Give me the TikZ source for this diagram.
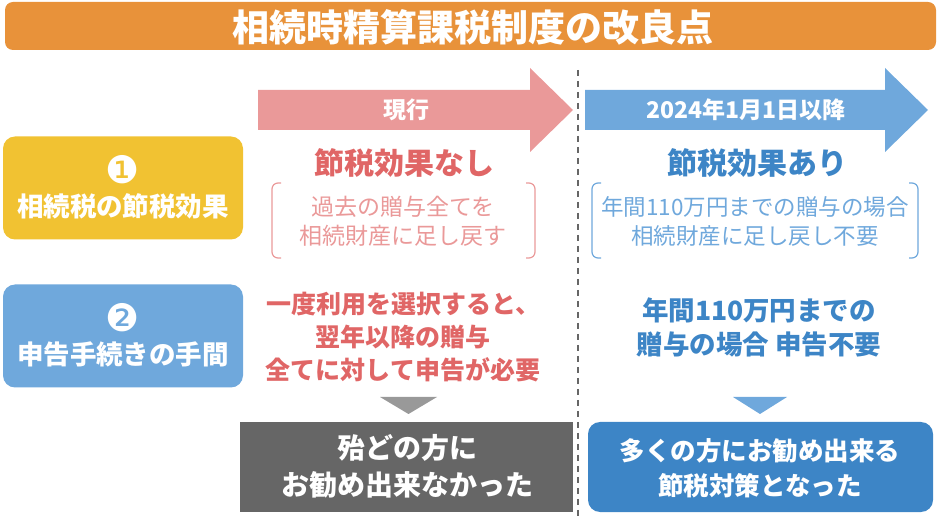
\documentclass[tikz,border=0pt]{standalone}
\usepackage{fontspec}
\setmainfont{Noto Sans CJK JP}
\newfontfamily\dingfont{DejaVu Sans}

\definecolor{titleorange}{HTML}{E8923A}
\definecolor{nowpink}{HTML}{EA9999}
\definecolor{nowred}{HTML}{E06666}
\definecolor{newblue}{HTML}{6FA8DC}
\definecolor{deepblue}{HTML}{3D85C6}
\definecolor{itemyellow}{HTML}{F1C232}

\tikzset{
  bfs/.style={font=\bfseries\fontsize{#1}{#1}\selectfont},
  itembox/.style={rounded corners=12pt, minimum width=240, minimum height=103, inner sep=0pt},
  itemnum/.style={text=white, inner sep=0pt, anchor=base, text depth=0pt, font=\dingfont\fontsize{38}{38}\selectfont},
  resultbox/.style={minimum height=90, inner sep=0pt},
  bracketline/.style={line width=1.2pt, rounded corners=6pt},
}

\begin{document}
\begin{tikzpicture}[x=1pt,y=-1pt]
  \useasboundingbox (0,0) rectangle (938,521);

  %% Title
  \node[fill=titleorange, rounded corners=8pt, minimum width=931, minimum height=48, inner sep=0pt] (titlebar) at (470.5,26) {};
  \node[text=white, bfs=37] (title) at (473,27) {相続時精算課税制度の改良点};

  %% Arrows
  \fill[nowpink] (258,90) -- (530,90) -- (530,68) -- (573,110) -- (530,152) -- (530,130) -- (258,130) -- cycle;
  \fill[newblue] (585,90) -- (885,90) -- (885,68) -- (928,110) -- (885,152) -- (885,130) -- (585,130) -- cycle;
  \node[text=white, bfs=23] (now) at (406,110) {現行};
  \node[text=white, bfs=23] (new) at (746,110) {2024年1月1日以降};

  \coordinate (divtop) at (578,70);
  \coordinate (divbot) at (578,521);
  \draw[gray!80!black, line width=1.2pt, dash pattern=on 6pt off 5pt] (divtop) -- (divbot);

  %% Left items
  \node[itembox, fill=itemyellow] (item1) at (123,188) {};
  \node[itemnum] (num1) at (123,184) {❶};
  \node[text=white, bfs=26.5] (label1) at (123,206) {相続税の節税効果};

  \node[itembox, fill=newblue] (item2) at (123,336) {};
  \node[itemnum] (num2) at (123,332) {❷};
  \node[text=white, bfs=26.5] (label2) at (123,354) {申告手続きの手間};

  %% Current system
  \node[text=nowred, bfs=30] (nowhead) at (404,163) {節税効果なし};
  \draw[nowpink, bracketline] (281,183) -- (272,183) -- (272,258) -- (281,258);
  \draw[nowpink, bracketline] (526,183) -- (535,183) -- (535,258) -- (526,258);
  \node[text=nowpink, align=center, font=\fontsize{23}{29}\selectfont] (nowtext) at (403,221) {過去の贈与全てを\\相続財産に足し戻す};
  \node[text=nowred, align=center, font=\bfseries\fontsize{25}{33}\selectfont] (nowcost) at (403,337) {一度利用を選択すると、\\翌年以降の贈与\\全てに対して申告が必要};

  %% New system
  \node[text=deepblue, bfs=30] (newhead) at (757,163) {節税効果あり};
  \draw[newblue, bracketline] (601,183) -- (592,183) -- (592,258) -- (601,258);
  \draw[newblue, bracketline] (909,183) -- (918,183) -- (918,258) -- (909,258);
  \node[text=newblue, align=center, font=\fontsize{22.5}{29}\selectfont] (newtext) at (755,221) {年間110万円までの贈与の場合\\相続財産に足し戻し不要};
  \node[text=deepblue, align=center, font=\bfseries\fontsize{26.5}{34}\selectfont] (newcost) at (759,327) {年間110万円までの\\贈与の場合 申告不要};

  %% Results
  \fill[gray!80] (380,397) -- (437,397) -- (408.5,414) -- cycle;
  \fill[newblue] (733,397) -- (787,397) -- (760,414) -- cycle;
  \node[resultbox, fill=black!60, minimum width=333] (nowres) at (406.5,467) {};
  \node[text=white, align=center, font=\bfseries\fontsize{28}{37}\selectfont] (nowrestext) at (407,466) {殆どの方に\\お勧め出来なかった};
  \node[resultbox, fill=deepblue, minimum width=345, rounded corners=12pt] (newres) at (760.5,467) {};
  \node[text=white, align=center, font=\bfseries\fontsize{25.5}{35}\selectfont] (newrestext) at (760,468) {多くの方にお勧め出来る\\節税対策となった};
\end{tikzpicture}
\end{document}
